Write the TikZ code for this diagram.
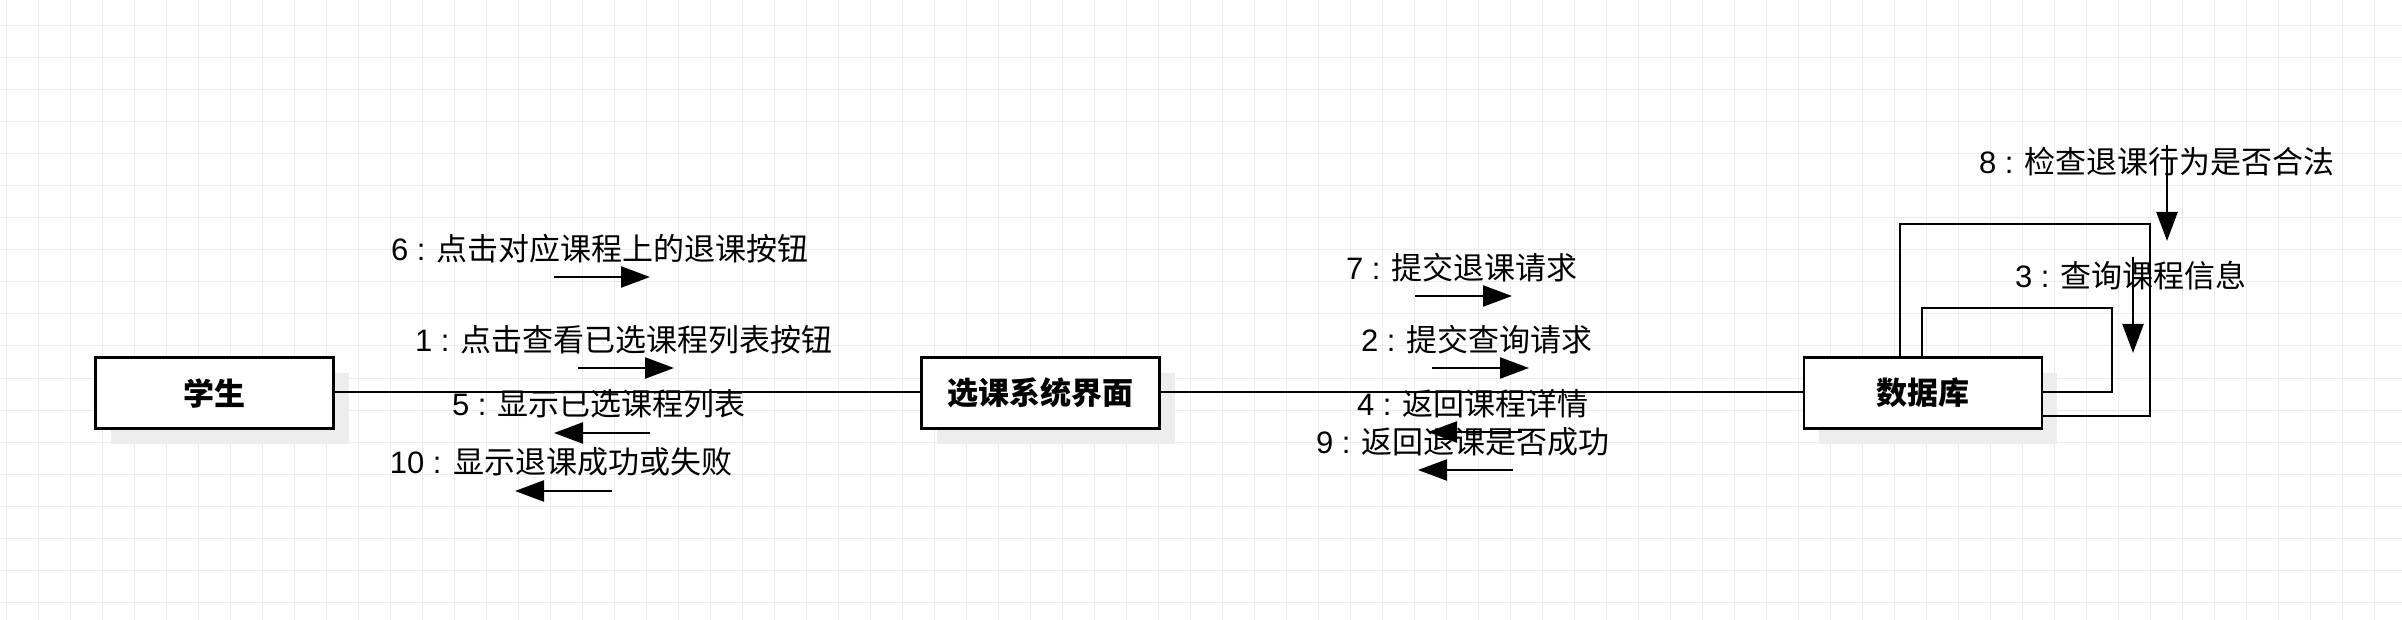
\documentclass[tikz,border=0pt]{standalone}
\usepackage{fontspec}
\setmainfont{Liberation Sans}
\newfontfamily\cjk{Noto Sans CJK SC}
\usetikzlibrary{arrows.meta}
\definecolor{gridc}{HTML}{EBEBEB}
\definecolor{shadowc}{HTML}{EDEDED}
\tikzset{
  obj/.style={draw=black, line width=2.8pt, fill=white, minimum width=238pt, minimum height=71pt, inner sep=0pt, font=\fontsize{31}{37}\selectfont\cjk\bfseries},
  shadowbox/.style={fill=shadowc, draw=none, minimum width=238pt, minimum height=71pt, inner sep=0pt},
  lbl/.style={inner sep=0pt, font=\fontsize{31}{37}\selectfont},
  link/.style={line width=2.8pt},
  msg/.style={line width=2.4pt, -{Triangle[length=29pt,width=21pt]}},
}
\begin{document}
\begin{tikzpicture}[x=1pt,y=-1pt]
\useasboundingbox (0,0) rectangle (2402,620);
\fill[white] (0,0) rectangle (2402,620);
% grid
\foreach \k in {0,...,74} { \draw[gridc, line width=1pt] ({6+32*\k},0) -- ({6+32*\k},620); }
\foreach \k in {0,...,18} { \draw[gridc, line width=1pt] (0,{26+32*\k}) -- (2402,{26+32*\k}); }
% shadows
\node[shadowbox] at (229.5,408) {};
\node[shadowbox] at (1055.5,408) {};
\node[shadowbox] at (1938,408) {};
% links
\coordinate (lA) at (214.5,392);
\coordinate (lB) at (1040.5,392);
\coordinate (lC) at (1923,392);
\draw[link] (lA) -- (lB) -- (lC);
% objects
\node[obj] (stu) at (214.5,393) {\raisebox{2pt}{学生}};
\node[obj] (ui) at (1040.5,393) {\raisebox{2pt}{选课系统界面}};
\node[obj] (db) at (1923,393) {\raisebox{2pt}{数据库}};
% self loops
\draw[link] (db.north -| 1900,0) |- (2150,224) |- (db.east |- 0,416);
\draw[link] (db.north -| 1922,0) |- (2112,308) |- (db.east |- 0,392);
% labels
\node[lbl] (m6) at (600,249) {6 : \cjk 点击对应课程上的退课按钮};
\node[lbl] (m1) at (624,340) {1 : \cjk 点击查看已选课程列表按钮};
\node[lbl] (m5) at (599,404) {5 : \cjk 显示已选课程列表};
\node[lbl] (m10) at (561,462) {10 : \cjk 显示退课成功或失败};
\node[lbl] (m7) at (1462,268) {7 : \cjk 提交退课请求};
\node[lbl] (m2) at (1477,340) {2 : \cjk 提交查询请求};
\node[lbl] (m4) at (1473,404) {4 : \cjk 返回课程详情};
\node[lbl] (m9) at (1463,442) {9 : \cjk 返回退课是否成功};
\node[lbl] (m8) at (2157,162) {8 : \cjk 检查退课行为是否合法};
\node[lbl] (m3) at (2131,276) {3 : \cjk 查询课程信息};
% message arrows
\coordinate (a6s) at (554,277); \coordinate (a6e) at (650,277);
\coordinate (a1s) at (578,368); \coordinate (a1e) at (674,368);
\coordinate (a5s) at (650,433); \coordinate (a5e) at (554,433);
\coordinate (a10s) at (612,491); \coordinate (a10e) at (515,491);
\coordinate (a7s) at (1415,296); \coordinate (a7e) at (1512,296);
\coordinate (a2s) at (1432,368); \coordinate (a2e) at (1529,368);
\coordinate (a4s) at (1522,432); \coordinate (a4e) at (1428,432);
\coordinate (a9s) at (1513,470); \coordinate (a9e) at (1418,470);
\coordinate (a8s) at (2167,145); \coordinate (a8e) at (2167,241);
\coordinate (a3s) at (2133,257); \coordinate (a3e) at (2133,353);
\draw[msg] (a6s) -- (a6e);
\draw[msg] (a1s) -- (a1e);
\draw[msg] (a5s) -- (a5e);
\draw[msg] (a10s) -- (a10e);
\draw[msg] (a7s) -- (a7e);
\draw[msg] (a2s) -- (a2e);
\draw[msg] (a4s) -- (a4e);
\draw[msg] (a9s) -- (a9e);
\draw[msg] (a8s) -- (a8e);
\draw[msg] (a3s) -- (a3e);
\end{tikzpicture}
\end{document}
